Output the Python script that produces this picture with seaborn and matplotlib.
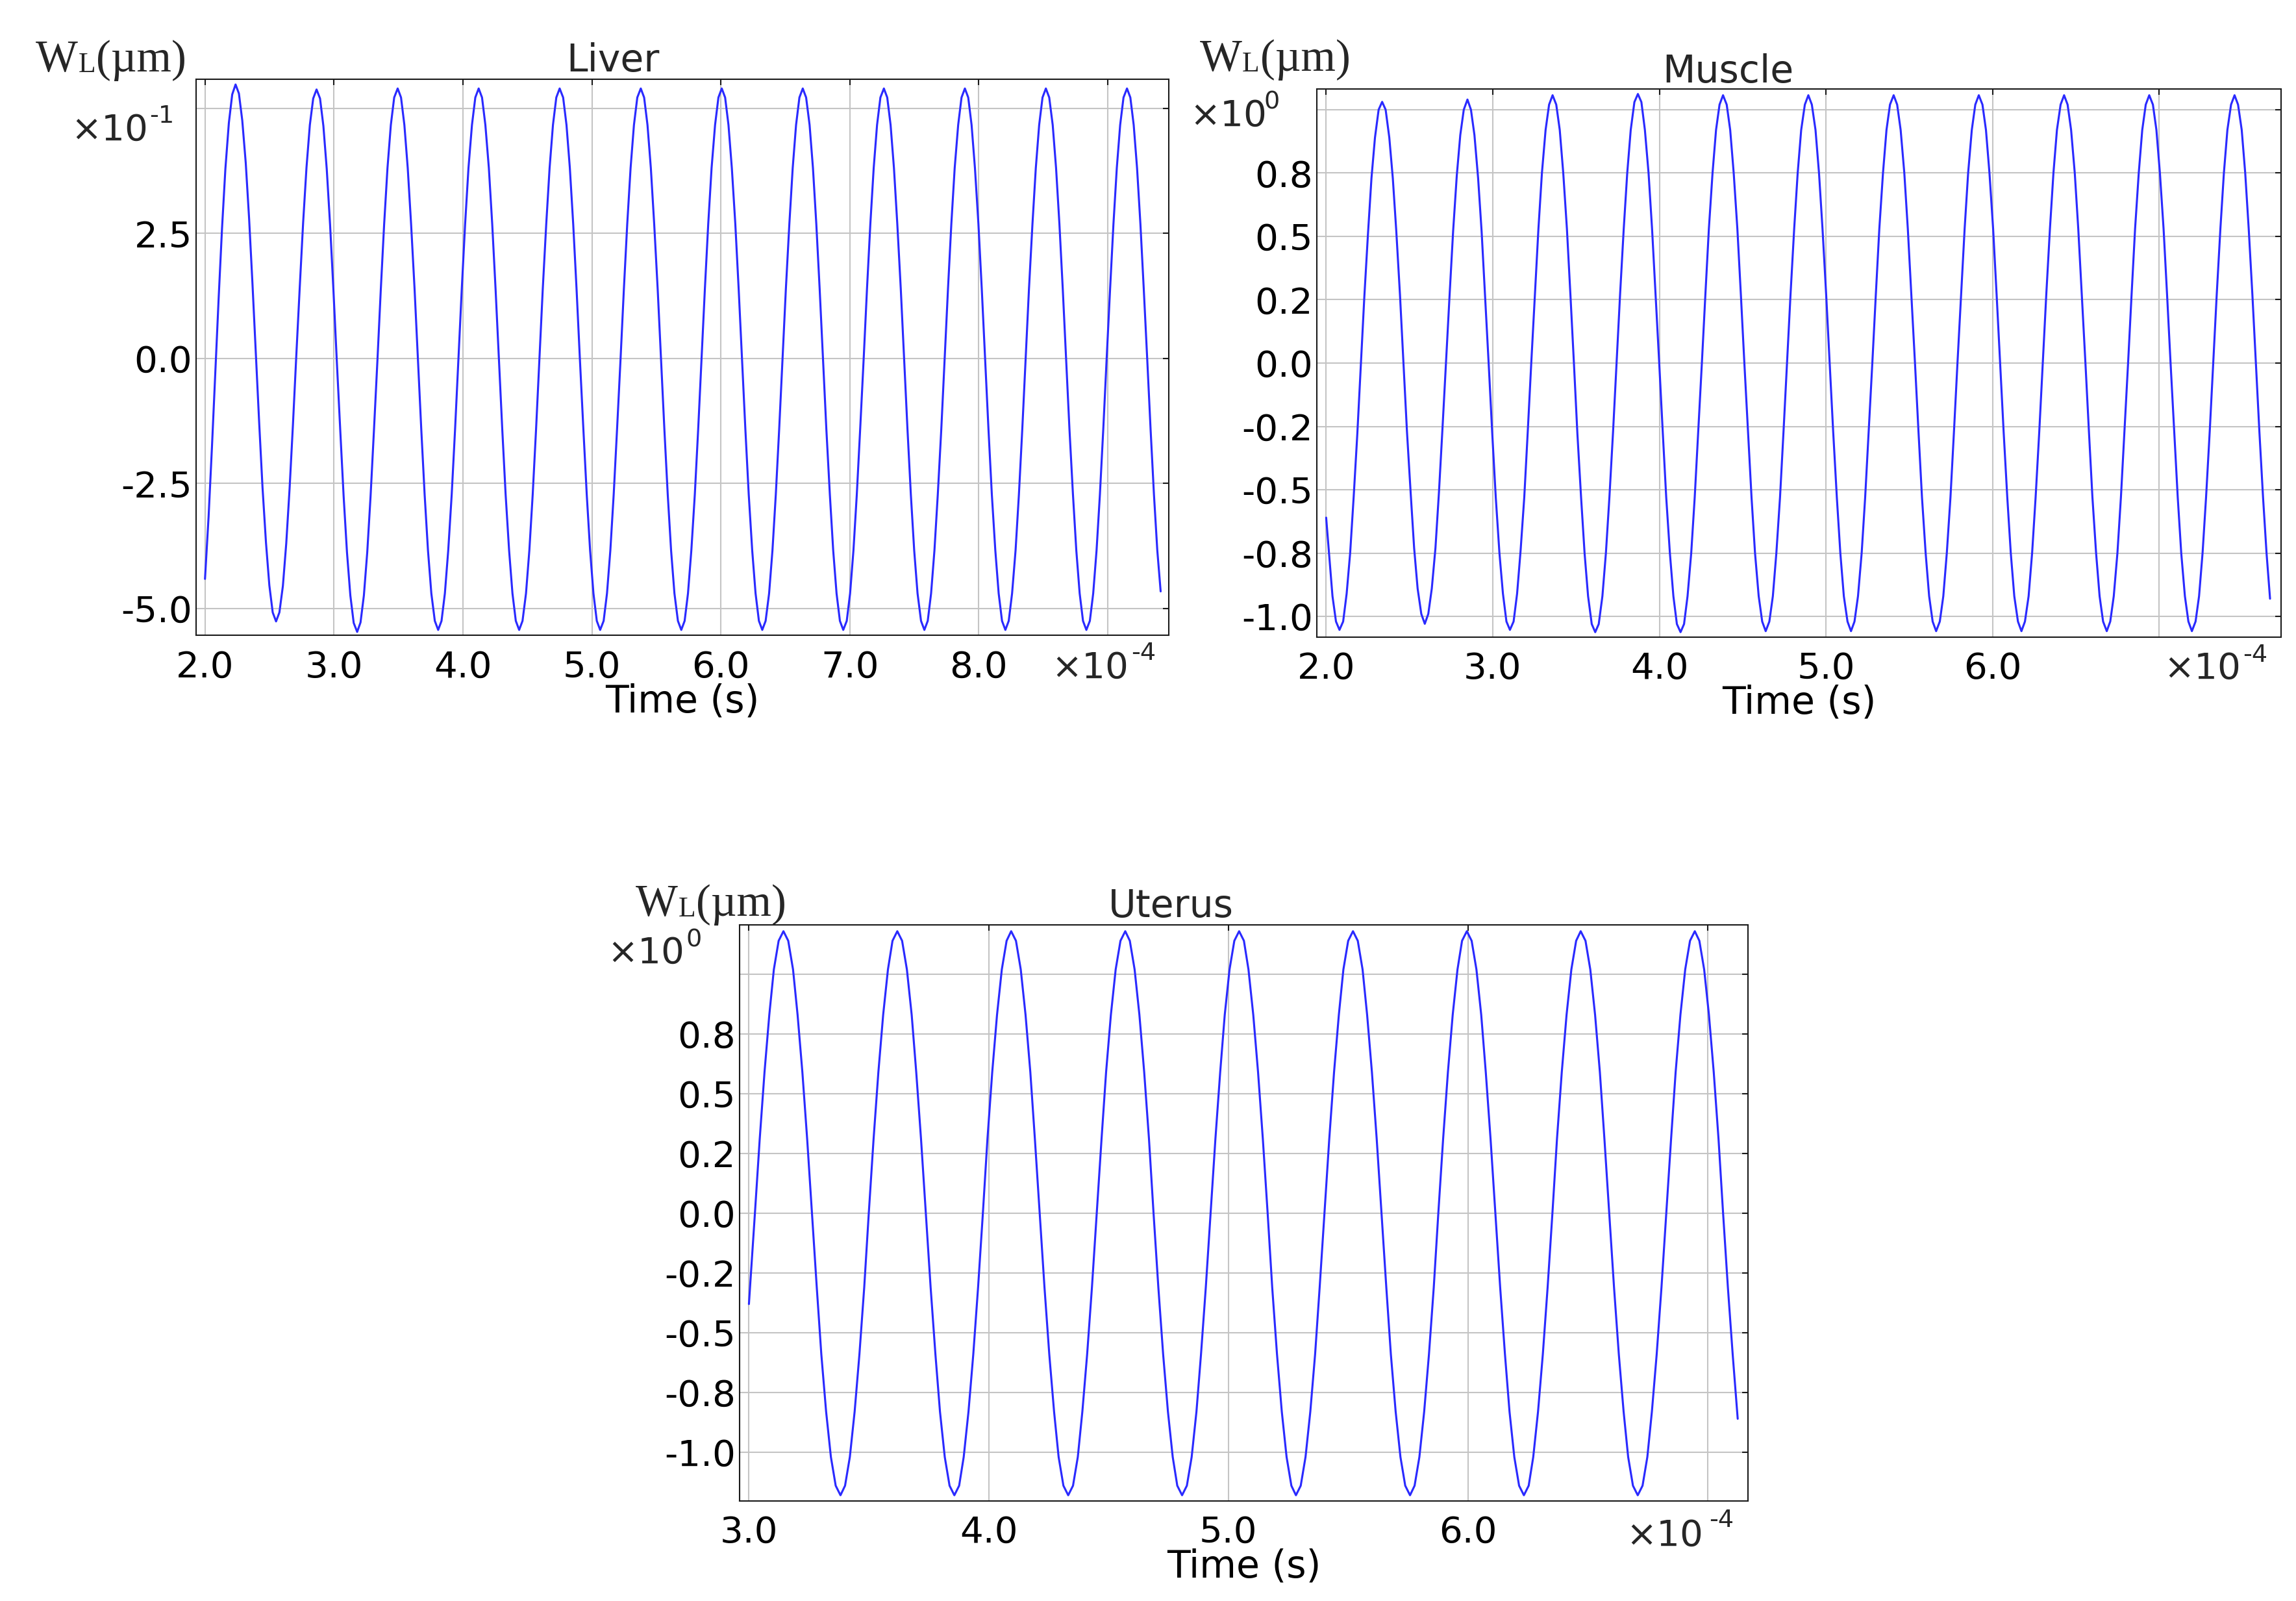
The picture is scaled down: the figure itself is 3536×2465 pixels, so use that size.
import matplotlib
matplotlib.use("Agg")
import matplotlib.pyplot as plt
import seaborn as sns

# --- data (time in 1e-4 s) ---
# Liver: displacement in 1e-1 um
liver_t = [
    2.000, 2.028, 2.054, 2.080, 2.106, 2.132, 2.158, 2.185, 2.211,
    2.237, 2.263, 2.289, 2.316, 2.342, 2.368, 2.394, 2.420, 2.446, 2.473, 2.499, 2.525,
    2.551, 2.577, 2.604, 2.630, 2.656, 2.682, 2.708, 2.735, 2.761, 2.787, 2.813, 2.839,
    2.865, 2.892, 2.918, 2.944, 2.970, 2.996, 3.022, 3.049, 3.075, 3.101, 3.127, 3.153,
    3.180, 3.206, 3.232, 3.258, 3.284, 3.310, 3.337, 3.363, 3.389, 3.415, 3.441, 3.467,
    3.494, 3.520, 3.546, 3.572, 3.598, 3.625, 3.651, 3.677, 3.703, 3.729, 3.755, 3.782,
    3.808, 3.834, 3.860, 3.886, 3.913, 3.939, 3.965, 3.991, 4.017, 4.043, 4.070, 4.096,
    4.122, 4.148, 4.174, 4.201, 4.227, 4.253, 4.279, 4.305, 4.331, 4.358, 4.384, 4.410,
    4.436, 4.462, 4.489, 4.515, 4.541, 4.567, 4.593, 4.619, 4.646, 4.672, 4.698, 4.724,
    4.750, 4.777, 4.803, 4.829, 4.855, 4.881, 4.907, 4.934, 4.960, 4.986, 5.012, 5.038,
    5.064, 5.091, 5.117, 5.143, 5.169, 5.195, 5.222, 5.248, 5.274, 5.300, 5.326, 5.352,
    5.379, 5.405, 5.431, 5.457, 5.483, 5.510, 5.536, 5.562, 5.588, 5.614, 5.640, 5.667,
    5.693, 5.719, 5.745, 5.771, 5.798, 5.824, 5.850, 5.876, 5.902, 5.928, 5.955, 5.981,
    6.007, 6.033, 6.059, 6.085, 6.112, 6.138, 6.164, 6.190, 6.216, 6.243, 6.269, 6.295,
    6.321, 6.347, 6.374, 6.400, 6.426, 6.452, 6.478, 6.504, 6.531, 6.557, 6.583, 6.609,
    6.635, 6.661, 6.688, 6.714, 6.740, 6.766, 6.792, 6.818, 6.845, 6.871, 6.897, 6.923,
    6.949, 6.976, 7.002, 7.028, 7.054, 7.080, 7.107, 7.133, 7.159, 7.185, 7.211, 7.237,
    7.264, 7.290, 7.316, 7.342, 7.368, 7.395, 7.421, 7.447, 7.473, 7.499, 7.525, 7.552,
    7.578, 7.604, 7.630, 7.656, 7.682, 7.709, 7.735, 7.761, 7.787, 7.813, 7.840, 7.866,
    7.892, 7.918, 7.944, 7.970, 7.997, 8.023, 8.049, 8.075, 8.101, 8.128, 8.154, 8.180,
    8.206, 8.232, 8.258, 8.285, 8.311, 8.337, 8.363, 8.389, 8.416, 8.442, 8.468, 8.494,
    8.520, 8.546, 8.573, 8.599, 8.625, 8.651, 8.677, 8.703, 8.730, 8.756, 8.782, 8.808,
    8.834, 8.861, 8.887, 8.913, 8.939, 8.965, 8.991, 9.018, 9.044, 9.070, 9.096, 9.122,
    9.149, 9.175, 9.201, 9.227, 9.253, 9.279, 9.306, 9.332, 9.358, 9.384, 9.410,
]
liver_w = [
    -4.41, -3.16, -1.77, -0.28, 1.21, 2.60, 3.79, 4.71, 5.28,
    5.48, 5.30, 4.76, 3.91, 2.80, 1.50, 0.11, -1.28, -2.58, -3.69, -4.54, -5.08,
    -5.26, -5.08, -4.55, -3.70, -2.60, -1.32, 0.06, 1.44, 2.72, 3.82, 4.67, 5.20,
    5.38, 5.20, 4.65, 3.79, 2.67, 1.36, -0.05, -1.45, -2.76, -3.88, -4.74, -5.29,
    -5.47, -5.28, -4.74, -3.88, -2.75, -1.44, -0.04, 1.37, 2.68, 3.81, 4.67, 5.22,
    5.40, 5.22, 4.67, 3.81, 2.69, 1.39, -0.02, -1.42, -2.72, -3.84, -4.70, -5.25,
    -5.43, -5.25, -4.70, -3.84, -2.72, -1.42, -0.02, 1.39, 2.69, 3.81, 4.67, 5.22,
    5.40, 5.22, 4.67, 3.81, 2.69, 1.39, -0.02, -1.42, -2.72, -3.84, -4.70, -5.25,
    -5.43, -5.25, -4.70, -3.84, -2.72, -1.42, -0.02, 1.39, 2.69, 3.81, 4.67, 5.22,
    5.40, 5.22, 4.67, 3.81, 2.69, 1.39, -0.02, -1.42, -2.72, -3.84, -4.70, -5.25,
    -5.43, -5.25, -4.70, -3.84, -2.72, -1.42, -0.02, 1.39, 2.69, 3.81, 4.67, 5.22,
    5.40, 5.22, 4.67, 3.81, 2.69, 1.39, -0.02, -1.42, -2.72, -3.84, -4.70, -5.25,
    -5.43, -5.25, -4.70, -3.84, -2.72, -1.42, -0.02, 1.39, 2.69, 3.81, 4.67, 5.22,
    5.40, 5.22, 4.67, 3.81, 2.69, 1.39, -0.02, -1.42, -2.72, -3.84, -4.70, -5.25,
    -5.43, -5.25, -4.70, -3.84, -2.72, -1.42, -0.02, 1.39, 2.69, 3.81, 4.67, 5.22,
    5.40, 5.22, 4.67, 3.81, 2.69, 1.39, -0.02, -1.42, -2.72, -3.84, -4.70, -5.25,
    -5.43, -5.25, -4.70, -3.84, -2.72, -1.42, -0.02, 1.39, 2.69, 3.81, 4.67, 5.22,
    5.40, 5.22, 4.67, 3.81, 2.69, 1.39, -0.02, -1.42, -2.72, -3.84, -4.70, -5.25,
    -5.43, -5.25, -4.70, -3.84, -2.72, -1.42, -0.02, 1.39, 2.69, 3.81, 4.67, 5.22,
    5.40, 5.22, 4.67, 3.81, 2.69, 1.39, -0.02, -1.42, -2.72, -3.84, -4.70, -5.25,
    -5.43, -5.25, -4.70, -3.84, -2.72, -1.42, -0.02, 1.39, 2.69, 3.81, 4.67, 5.22,
    5.40, 5.22, 4.67, 3.81, 2.69, 1.39, -0.02, -1.42, -2.72, -3.84, -4.70, -5.25,
    -5.43, -5.25, -4.70, -3.84, -2.72, -1.42, -0.02, 1.39, 2.69, 3.81, 4.67, 5.22,
    5.40, 5.22, 4.67, 3.81, 2.69, 1.39, -0.02, -1.42, -2.72, -3.84, -4.66,
]

# Muscle: displacement in um
muscle_t = [
    2.000, 2.038, 2.059, 2.080, 2.102, 2.123, 2.144, 2.165, 2.187, 2.208, 2.229, 2.251,
    2.272, 2.293, 2.315,
    2.336, 2.357, 2.379, 2.400, 2.421, 2.443, 2.464, 2.485, 2.507, 2.528, 2.549, 2.571,
    2.592, 2.613, 2.634, 2.656, 2.677, 2.698, 2.720, 2.741, 2.762, 2.784, 2.805, 2.826,
    2.848, 2.869, 2.890, 2.912, 2.933, 2.954, 2.976, 2.997, 3.018, 3.040, 3.061, 3.082,
    3.103, 3.125, 3.146, 3.167, 3.189, 3.210, 3.231, 3.253, 3.274, 3.295, 3.317, 3.338,
    3.359, 3.381, 3.402, 3.423, 3.445, 3.466, 3.487, 3.508, 3.530, 3.551, 3.572, 3.594,
    3.615, 3.636, 3.658, 3.679, 3.700, 3.722, 3.743, 3.764, 3.786, 3.807, 3.828, 3.850,
    3.871, 3.892, 3.913, 3.935, 3.956, 3.977, 3.999, 4.020, 4.041, 4.063, 4.084, 4.105,
    4.127, 4.148, 4.169, 4.191, 4.212, 4.233, 4.255, 4.276, 4.297, 4.319, 4.340, 4.361,
    4.382, 4.404, 4.425, 4.446, 4.468, 4.489, 4.510, 4.532, 4.553, 4.574, 4.596, 4.617,
    4.638, 4.660, 4.681, 4.702, 4.724, 4.745, 4.766, 4.787, 4.809, 4.830, 4.851, 4.873,
    4.894, 4.915, 4.937, 4.958, 4.979, 5.001, 5.022, 5.043, 5.065, 5.086, 5.107, 5.129,
    5.150, 5.171, 5.192, 5.214, 5.235, 5.256, 5.278, 5.299, 5.320, 5.342, 5.363, 5.384,
    5.406, 5.427, 5.448, 5.470, 5.491, 5.512, 5.534, 5.555, 5.576, 5.598, 5.619, 5.640,
    5.661, 5.683, 5.704, 5.725, 5.747, 5.768, 5.789, 5.811, 5.832, 5.853, 5.875, 5.896,
    5.917, 5.939, 5.960, 5.981, 6.003, 6.024, 6.045, 6.066, 6.088, 6.109, 6.130, 6.152,
    6.173, 6.194, 6.216, 6.237, 6.258, 6.280, 6.301, 6.322, 6.344, 6.365, 6.386, 6.408,
    6.429, 6.450, 6.471, 6.493, 6.514, 6.535, 6.557, 6.578, 6.599, 6.621, 6.642, 6.663,
    6.685, 6.706, 6.727, 6.749, 6.770, 6.791, 6.813, 6.834, 6.855, 6.877, 6.898, 6.919,
    6.940, 6.962, 6.983, 7.004, 7.026, 7.047, 7.068, 7.090, 7.111, 7.132, 7.154, 7.175,
    7.196, 7.218, 7.239, 7.260, 7.281, 7.303, 7.324, 7.345, 7.367, 7.388, 7.409, 7.431,
    7.452, 7.473, 7.495, 7.516, 7.537, 7.559, 7.580, 7.601, 7.623, 7.644, 7.665,
]
muscle_w = [
    -0.61, -0.92, -1.02, -1.053, -1.02, -0.91, -0.75, -0.53, -0.28, -0.01, 0.26, 0.51,
    0.73, 0.89, 1.00,
    1.031, 1.00, 0.89, 0.73, 0.52, 0.27, 0.00, -0.27, -0.51, -0.73, -0.89, -0.99,
    -1.029, -0.99, -0.89, -0.73, -0.51, -0.26, 0.01, 0.27, 0.52, 0.74, 0.90, 1.00,
    1.040, 1.00, 0.90, 0.73, 0.52, 0.26, -0.01, -0.28, -0.53, -0.75, -0.91, -1.02,
    -1.053, -1.02, -0.91, -0.74, -0.53, -0.27, 0.00, 0.27, 0.53, 0.75, 0.92, 1.02,
    1.057, 1.02, 0.92, 0.75, 0.53, 0.27, 0.00, -0.28, -0.53, -0.75, -0.92, -1.03,
    -1.062, -1.03, -0.92, -0.75, -0.53, -0.27, 0.00, 0.27, 0.53, 0.75, 0.92, 1.03,
    1.062, 1.03, 0.92, 0.75, 0.53, 0.27, 0.00, -0.27, -0.53, -0.75, -0.92, -1.03,
    -1.062, -1.03, -0.92, -0.75, -0.53, -0.27, 0.00, 0.27, 0.53, 0.75, 0.92, 1.02,
    1.057, 1.02, 0.92, 0.75, 0.53, 0.27, 0.00, -0.27, -0.53, -0.75, -0.92, -1.02,
    -1.058, -1.02, -0.92, -0.75, -0.53, -0.27, 0.00, 0.27, 0.53, 0.75, 0.92, 1.02,
    1.057, 1.02, 0.92, 0.75, 0.53, 0.27, 0.00, -0.27, -0.53, -0.75, -0.92, -1.02,
    -1.058, -1.02, -0.92, -0.75, -0.53, -0.27, 0.00, 0.27, 0.53, 0.75, 0.92, 1.02,
    1.057, 1.02, 0.92, 0.75, 0.53, 0.27, 0.00, -0.27, -0.53, -0.75, -0.92, -1.02,
    -1.058, -1.02, -0.92, -0.75, -0.53, -0.27, 0.00, 0.27, 0.53, 0.75, 0.92, 1.02,
    1.057, 1.02, 0.92, 0.75, 0.53, 0.27, 0.00, -0.27, -0.53, -0.75, -0.92, -1.02,
    -1.058, -1.02, -0.92, -0.75, -0.53, -0.27, 0.00, 0.27, 0.53, 0.75, 0.92, 1.02,
    1.057, 1.02, 0.92, 0.75, 0.53, 0.27, 0.00, -0.27, -0.53, -0.75, -0.92, -1.02,
    -1.058, -1.02, -0.92, -0.75, -0.53, -0.27, 0.00, 0.27, 0.53, 0.75, 0.92, 1.02,
    1.057, 1.02, 0.92, 0.75, 0.53, 0.27, 0.00, -0.27, -0.53, -0.75, -0.92, -1.02,
    -1.058, -1.02, -0.92, -0.75, -0.53, -0.27, 0.00, 0.27, 0.53, 0.75, 0.92, 1.02,
    1.057, 1.02, 0.92, 0.75, 0.53, 0.27, 0.00, -0.27, -0.53, -0.75, -0.93,
]

# Uterus: displacement in um
uterus_t = [
    3.000, 3.025, 3.045, 3.065, 3.085, 3.104, 3.124,
    3.144, 3.164, 3.184, 3.203, 3.223, 3.243, 3.263, 3.283, 3.302, 3.322, 3.342, 3.362,
    3.382, 3.401, 3.421, 3.441, 3.461, 3.481, 3.500, 3.520, 3.540, 3.560, 3.580, 3.599,
    3.619, 3.639, 3.659, 3.679, 3.698, 3.718, 3.738, 3.758, 3.778, 3.797, 3.817, 3.837,
    3.857, 3.877, 3.896, 3.916, 3.936, 3.956, 3.976, 3.995, 4.015, 4.035, 4.055, 4.075,
    4.094, 4.114, 4.134, 4.154, 4.174, 4.193, 4.213, 4.233, 4.253, 4.273, 4.292, 4.312,
    4.332, 4.352, 4.372, 4.391, 4.411, 4.431, 4.451, 4.471, 4.490, 4.510, 4.530, 4.550,
    4.570, 4.589, 4.609, 4.629, 4.649, 4.669, 4.688, 4.708, 4.728, 4.748, 4.768, 4.787,
    4.807, 4.827, 4.847, 4.867, 4.886, 4.906, 4.926, 4.946, 4.966, 4.985, 5.005, 5.025,
    5.045, 5.065, 5.084, 5.104, 5.124, 5.144, 5.164, 5.183, 5.203, 5.223, 5.243, 5.263,
    5.282, 5.302, 5.322, 5.342, 5.362, 5.381, 5.401, 5.421, 5.441, 5.461, 5.480, 5.500,
    5.520, 5.540, 5.560, 5.579, 5.599, 5.619, 5.639, 5.659, 5.678, 5.698, 5.718, 5.738,
    5.758, 5.777, 5.797, 5.817, 5.837, 5.857, 5.876, 5.896, 5.916, 5.936, 5.956, 5.975,
    5.995, 6.015, 6.035, 6.055, 6.074, 6.094, 6.114, 6.134, 6.154, 6.173, 6.193, 6.213,
    6.233, 6.253, 6.272, 6.292, 6.312, 6.332, 6.352, 6.371, 6.391, 6.411, 6.431, 6.451,
    6.470, 6.490, 6.510, 6.530, 6.550, 6.569, 6.589, 6.609, 6.629, 6.649, 6.668, 6.688,
    6.708, 6.728, 6.748, 6.767, 6.787, 6.807, 6.827, 6.847, 6.866, 6.886, 6.906, 6.926,
    6.946, 6.965, 6.985, 7.005, 7.025, 7.045, 7.064, 7.084, 7.104, 7.125,
]
uterus_w = [
    -0.38, 0.00, 0.31, 0.59, 0.83, 1.02, 1.14,
    1.18, 1.14, 1.02, 0.83, 0.59, 0.31, 0.00, -0.31, -0.59, -0.83, -1.02, -1.14,
    -1.18, -1.14, -1.02, -0.83, -0.59, -0.31, 0.00, 0.31, 0.59, 0.83, 1.02, 1.14,
    1.18, 1.14, 1.02, 0.83, 0.59, 0.31, 0.00, -0.31, -0.59, -0.83, -1.02, -1.14,
    -1.18, -1.14, -1.02, -0.83, -0.59, -0.31, 0.00, 0.31, 0.59, 0.83, 1.02, 1.14,
    1.18, 1.14, 1.02, 0.83, 0.59, 0.31, 0.00, -0.31, -0.59, -0.83, -1.02, -1.14,
    -1.18, -1.14, -1.02, -0.83, -0.59, -0.31, 0.00, 0.31, 0.59, 0.83, 1.02, 1.14,
    1.18, 1.14, 1.02, 0.83, 0.59, 0.31, 0.00, -0.31, -0.59, -0.83, -1.02, -1.14,
    -1.18, -1.14, -1.02, -0.83, -0.59, -0.31, 0.00, 0.31, 0.59, 0.83, 1.02, 1.14,
    1.18, 1.14, 1.02, 0.83, 0.59, 0.31, 0.00, -0.31, -0.59, -0.83, -1.02, -1.14,
    -1.18, -1.14, -1.02, -0.83, -0.59, -0.31, 0.00, 0.31, 0.59, 0.83, 1.02, 1.14,
    1.18, 1.14, 1.02, 0.83, 0.59, 0.31, 0.00, -0.31, -0.59, -0.83, -1.02, -1.14,
    -1.18, -1.14, -1.02, -0.83, -0.59, -0.31, 0.00, 0.31, 0.59, 0.83, 1.02, 1.14,
    1.18, 1.14, 1.02, 0.83, 0.59, 0.31, 0.00, -0.31, -0.59, -0.83, -1.02, -1.14,
    -1.18, -1.14, -1.02, -0.83, -0.59, -0.31, 0.00, 0.31, 0.59, 0.83, 1.02, 1.14,
    1.18, 1.14, 1.02, 0.83, 0.59, 0.31, 0.00, -0.31, -0.59, -0.83, -1.02, -1.14,
    -1.18, -1.14, -1.02, -0.83, -0.59, -0.31, 0.00, 0.31, 0.59, 0.83, 1.02, 1.14,
    1.18, 1.14, 1.02, 0.83, 0.59, 0.31, 0.00, -0.31, -0.59, -0.86,
]

# tick values and their printed labels (as shown in the figure)
liver_xticks = [2, 3, 4, 5, 6, 7, 8, 9]
liver_xlabels = ["2.0", "3.0", "4.0", "5.0", "6.0", "7.0", "8.0", ""]
liver_yticks = [-5.0, -2.5, 0.0, 2.5, 5.0]
liver_ylabels = ["-5.0", "-2.5", "0.0", "2.5", ""]

muscle_xticks = [2, 3, 4, 5, 6, 7]
muscle_xlabels = ["2.0", "3.0", "4.0", "5.0", "6.0", ""]
uterus_xticks = [3, 4, 5, 6, 7]
uterus_xlabels = ["3.0", "4.0", "5.0", "6.0", ""]
unit_yticks = [-1.0, -0.75, -0.5, -0.25, 0.0, 0.25, 0.5, 0.75, 1.0]
unit_ylabels = ["-1.0", "-0.8", "-0.5", "-0.2", "0.0", "0.2", "0.5", "0.8", ""]

# --- figure setup ---
W_PX, H_PX, DPI = 3537, 2465, 300
LINE_COLOR = "#2a2aff"
GRID_COLOR = "#c4c4c4"

sns.set_theme(style="white")
plt.rcParams["font.family"] = ["DejaVu Sans"]
plt.rcParams["axes.edgecolor"] = "#1a1a1a"
plt.rcParams["axes.linewidth"] = 0.5

fig = plt.figure(figsize=(W_PX / DPI, H_PX / DPI), dpi=DPI)


def fx(px):
    return px / W_PX


def fy(py):
    return 1 - py / H_PX


def draw_panel(box, t, w, xlim, ylim, xticks, xlabels, yticks, ylabels):
    left, top, right, bottom = box
    ax = fig.add_axes([fx(left), fy(bottom), (right - left) / W_PX, (bottom - top) / H_PX])
    sns.lineplot(x=t, y=w, ax=ax, color=LINE_COLOR, linewidth=0.75, estimator=None)
    ax.set_xlim(*xlim)
    ax.set_ylim(*ylim)
    ax.set_xticks(xticks)
    ax.set_xticklabels(xlabels)
    ax.set_yticks(yticks)
    ax.set_yticklabels(ylabels)
    ax.grid(True, color=GRID_COLOR, linewidth=0.5)
    ax.tick_params(axis="both", direction="in", length=2.2, width=0.5, color="#1a1a1a",
                   top=True, right=True, labelsize=13.5, labelcolor="black")
    ax.tick_params(axis="x", pad=5.3)
    ax.tick_params(axis="y", pad=1.5)
    ax.set_xlabel("Time (s)", fontsize=14, labelpad=-0.8, color="black")
    ax.set_ylabel("")
    return ax


def wl_label(x, y):
    # W with a small L, then (um) -- serif, as in the source figure
    t1 = fig.text(fx(x), fy(y), "W", family="Liberation Serif", fontsize=16.5,
                  ha="left", va="baseline")
    t2 = plt.annotate("L", xy=(1, 0), xycoords=t1, xytext=(0.2, 1.3), textcoords="offset points",
                      family="Liberation Serif", fontsize=10.5, ha="left", va="bottom",
                      annotation_clip=False)
    plt.annotate("(µm)", xy=(1, 0), xycoords=t2, xytext=(0.2, -1.3), textcoords="offset points",
                 family="Liberation Serif", fontsize=16.5, ha="left", va="bottom",
                 annotation_clip=False)


def sci_label(x_left, base, sup, x_sup_right, sup_base):
    fig.text(fx(x_left), fy(base), "×10", fontsize=13.5, ha="left", va="baseline")
    fig.text(fx(x_sup_right), fy(sup_base), sup, fontsize=9.2, ha="right", va="baseline")


ax_liver = draw_panel((302.3, 122, 1800, 978.3), liver_t, liver_w,
                      (1.9325, 9.473), (-5.54, 5.585),
                      liver_xticks, liver_xlabels, liver_yticks, liver_ylabels)
ax_muscle = draw_panel((2028, 136.5, 3512.7, 980.7), muscle_t, muscle_w,
                       (1.944, 7.730), (-1.081, 1.083),
                       muscle_xticks, muscle_xlabels, unit_yticks, unit_ylabels)
ax_uterus = draw_panel((1139, 1424, 2691.7, 2311), uterus_t, uterus_w,
                       (2.961, 7.167), (-1.204, 1.2065),
                       uterus_xticks, uterus_xlabels, unit_yticks, unit_ylabels)

# titles
fig.text(fx(944), fy(110.3), "Liver", fontsize=14, ha="center", va="baseline")
fig.text(fx(2661), fy(126.5), "Muscle", fontsize=14, ha="center", va="baseline")
fig.text(fx(1803.6), fy(1412), "Uterus", fontsize=14, ha="center", va="baseline")

# y-axis quantity labels
wl_label(54.6, 110.4)
wl_label(1847.5, 109)
wl_label(979.2, 1410)

# scale factors (y then x)
sci_label(109.3, 215.3, "-1", 268.1, 189)
sci_label(1832, 193.4, "0", 1971, 167)
sci_label(935.2, 1482.5, "0", 1080.8, 1457)
sci_label(1619.3, 1043.3, "-4", 1780, 1016)
sci_label(3332, 1045, "-4", 3492, 1019)
sci_label(2504, 2380, "-4", 2670, 2351)

fig.savefig("out.png", dpi=DPI)
